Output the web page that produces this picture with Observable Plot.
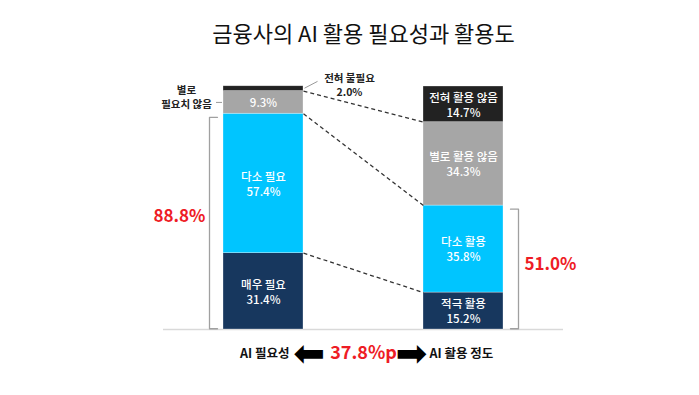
<!DOCTYPE html>
<html>
<head>
<meta charset="utf-8">
<script src="https://cdn.jsdelivr.net/npm/d3@7"></script>
<script src="https://cdn.jsdelivr.net/npm/@observablehq/plot@0.6"></script>
<style>
  html, body { margin: 0; padding: 0; background: #fff; }
  svg { display: block; }
</style>
</head>
<body>
<div id="chart"></div>
<script>
const title = "금융사의 AI 활용 필요성과 활용도";
const categories = ["AI 필요성", "AI 활용 정도"];
const needLabels = ["매우 필요", "다소 필요", "별로 필요치 않음", "전혀 불필요"];
const needValues = [31.4, 57.4, 9.3, 2.0];
const useLabels = ["적극 활용", "다소 활용", "별로 활용 않음", "전혀 활용 않음"];
const useValues = [15.2, 35.8, 34.3, 14.7];
const segColors = ["#17375e", "#00c5ff", "#a6a6a6", "#222222"];
const needTotal = 88.8;
const useTotal = 51.0;
const gapLabel = "37.8%p";

const FONT = "'Noto Sans CJK KR', 'Noto Sans', sans-serif";
const half = 0.2; // half bar width in x units

function buildRows(bar, labels, values) {
  const cum = d3.cumsum(values);
  return values.map((v, i) => ({
    bar, i, label: labels[i], value: v,
    y1: cum[i] - v, y2: cum[i], color: segColors[i]
  }));
}
const needRows = buildRows(0, needLabels, needValues);
const useRows = buildRows(1, useLabels, useValues);
const rows = needRows.concat(useRows);

// inner labels
const inner = rows.filter(d => !(d.bar === 0 && d.i === 3)).map(d => ({
  ...d,
  text: (d.bar === 0 && d.i === 2) ? `${d.value.toFixed(1)}%` : `${d.label}\n${d.value.toFixed(1)}%`,
  mid: (d.y1 + d.y2) / 2
}));

// connectors between cumulative boundaries
const needCum = d3.cumsum(needValues);
const useCum = d3.cumsum(useValues);
const links = [0, 1, 2].map(i => ({ y1: needCum[i], y2: useCum[i] }));

// brackets
function bracket(xv, tick, top) {
  return [
    { x: xv + tick, y: top - 1.5 }, { x: xv, y: top - 1.5 },
    { x: xv, y: 0.3 }, { x: xv + tick, y: 0.3 }
  ];
}
const leftBracket = bracket(-0.27, 0.04, needTotal);
const rightBracket = bracket(1.275, -0.04, useTotal);

const n2 = needRows[2], n3 = needRows[3];

const chart = Plot.plot({
  width: 699,
  height: 395,
  marginLeft: 103,
  marginRight: 76,
  marginTop: 86,
  marginBottom: 66,
  x: { domain: [-0.8, 1.8], axis: null },
  y: { domain: [0, 100], axis: null },
  style: { fontFamily: FONT, background: "#fff" },
  marks: [
    Plot.text([title], {
      frameAnchor: "top", x: 0.5, dy: -52, text: d => d, fontSize: 22,
      fill: "#111", fontWeight: 400, lineAnchor: "middle",
      style: "letter-spacing:-1px"
    }),
    Plot.ruleY([0], { x1: -0.5, x2: 1.5, stroke: "#d9d9d9", strokeWidth: 1.5 }),
    Plot.rect(rows, {
      x1: d => d.bar - half, x2: d => d.bar + half, y1: "y1", y2: "y2",
      fill: "color", stroke: "#ffffff", strokeOpacity: 0.5, strokeWidth: 0.6
    }),
    Plot.link(links, {
      x1: half, x2: 1 - half, y1: "y1", y2: "y2",
      stroke: "#333", strokeWidth: 1.3, strokeDasharray: "4,3"
    }),
    Plot.text(inner, {
      x: "bar", y: "mid", text: "text", fill: "#fff", fontSize: 11.5,
      fontWeight: 500, lineHeight: 1.3, lineAnchor: "middle"
    }),
    // outside labels for left bar
    Plot.text([n2], {
      x: -0.385, y: d => (d.y1 + d.y2) / 2, dy: -6,
      text: d => "별로\n필요치 않음", fill: "#222", fontSize: 10.5,
      fontWeight: 700, lineHeight: 1.38, lineAnchor: "middle"
    }),
    Plot.ruleY([n2], { y: d => (d.y1 + d.y2) / 2, x1: -0.235, x2: -0.205, stroke: "#999", strokeWidth: 1 }),
    Plot.text([n3], {
      x: 0.43, y: d => d.y2, dy: -2,
      text: d => `${d.label}\n${d.value.toFixed(1)}%`, fill: "#222", fontSize: 10.5,
      fontWeight: 700, lineHeight: 1.38, lineAnchor: "middle"
    }),
    Plot.link([n3], {
      x1: half + 0.005, y1: d => d.y2 - 0.8, x2: 0.27, y2: d => d.y2 + 2,
      stroke: "#999", strokeWidth: 1
    }),
    // brackets
    Plot.line(leftBracket, { x: "x", y: "y", stroke: "#a0a0a0", strokeWidth: 1.3 }),
    Plot.line(rightBracket, { x: "x", y: "y", stroke: "#a0a0a0", strokeWidth: 1.3 }),
    Plot.text([needTotal], {
      x: -0.42, y: d => d / 2, dy: -5, text: d => `${d.toFixed(1)}%`,
      fill: "#ee1c25", fontSize: 17, fontWeight: 700, lineAnchor: "middle"
    }),
    Plot.text([useTotal], {
      x: 1.435, y: d => d / 2, dy: -3, text: d => `${d.toFixed(1)}%`,
      fill: "#ee1c25", fontSize: 17, fontWeight: 700, lineAnchor: "middle"
    }),
    // bottom annotation
    Plot.text([categories[0]], {
      frameAnchor: "bottom", x: 0.13, dy: 24, text: d => d, textAnchor: "end",
      fill: "#111", fontSize: 12.5, fontWeight: 700, lineAnchor: "middle"
    }),
    Plot.text([categories[1]], {
      frameAnchor: "bottom", x: 0.83, dy: 24, text: d => d, textAnchor: "start",
      fill: "#111", fontSize: 12.5, fontWeight: 700, lineAnchor: "middle"
    }),
    Plot.text([gapLabel], {
      frameAnchor: "bottom", x: 0.5, dy: 24, text: d => d,
      fill: "#ee1c25", fontSize: 18, fontWeight: 700, lineAnchor: "middle"
    }),
    Plot.text(["⬅"], {
      frameAnchor: "bottom", x: 0.228, dy: 24, text: d => d,
      fill: "#000", fontSize: 38, fontFamily: "DejaVu Sans", lineAnchor: "middle"
    }),
    Plot.text(["➡"], {
      frameAnchor: "bottom", x: 0.74, dy: 24, text: d => d,
      fill: "#000", fontSize: 38, fontFamily: "DejaVu Sans", lineAnchor: "middle"
    })
  ]
});
document.getElementById("chart").appendChild(chart);
</script>
</body>
</html>
